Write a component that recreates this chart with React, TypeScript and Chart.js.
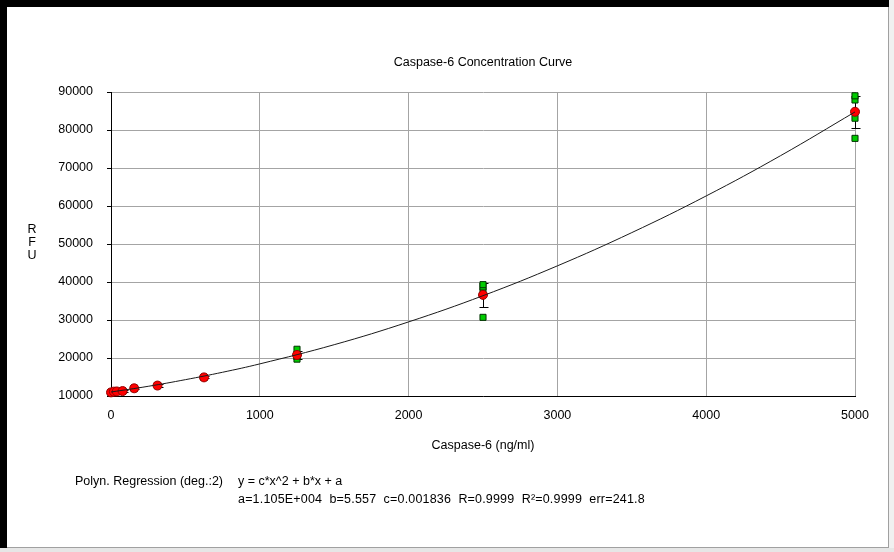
import React, { useEffect, useRef } from "react";
import { Chart, registerables } from "chart.js";

Chart.register(...registerables);

// ---- Data ----
const concentrations = [0, 19.5, 39, 78, 156, 312.5, 625, 1250, 2500, 5000];
const meanRFU = [10950, 11150, 11200, 11300, 12030, 12750, 14900, 20800, 36600, 84800];
const errRFU = [200, 200, 200, 250, 250, 300, 250, 1100, 3100, 4200];
const replicateA = [11000, 11200, 11250, 11350, 12100, 12800, 14950, 22300, 39300, 89000];
const replicateB = [10900, 11100, 11150, 11250, 11950, 12700, 14850, 20500, 38700, 87900];
const replicateC = [10950, 11150, 11200, 11300, 12050, 12750, 14900, 19700, 37700, 83100];
const replicateD = [10950, 11150, 11200, 11300, 12020, 12750, 14900, 20700, 30700, 77800];

const fitX = [0, 250, 500, 750, 1000, 1500, 2000, 2500, 3000, 3500, 4000, 4500, 5000];
const fitY = [11050, 12550, 14300, 16250, 18450, 23500, 29500, 36400, 44250, 53000, 62650, 73250, 84750];

const xTickValues = [0, 1000, 2000, 3000, 4000, 5000];
const yTickValues = [10000, 20000, 30000, 40000, 50000, 60000, 70000, 80000, 90000];

const chartTitle = "Caspase-6 Concentration Curve";
const xAxisTitle = "Caspase-6 (ng/ml)";
const yAxisLetters = ["R", "F", "U"];
const regressionLabel = "Polyn. Regression (deg.:2)";
const regressionFormula = "y = c*x^2 + b*x + a";
const regressionParams = "a=1.105E+004  b=5.557  c=0.001836  R=0.9999  R\u00B2=0.9999  err=241.8";

const FONT = '"Liberation Sans", Arial, sans-serif';

const errorBarPlugin = {
  id: "errorBars",
  beforeDatasetsDraw(chart: any) {
    const { ctx, scales } = chart;
    const x = scales.x;
    const y = scales.y;
    ctx.save();
    ctx.strokeStyle = "#000";
    ctx.lineWidth = 1;
    concentrations.forEach((c, i) => {
      const px = Math.round(x.getPixelForValue(c)) + 0.5;
      const top = Math.round(y.getPixelForValue(meanRFU[i] + errRFU[i])) + 0.5;
      const bot = Math.round(y.getPixelForValue(meanRFU[i] - errRFU[i])) + 0.5;
      ctx.beginPath();
      ctx.moveTo(px, top);
      ctx.lineTo(px, bot);
      ctx.moveTo(px - 4, top);
      ctx.lineTo(px + 5, top);
      ctx.moveTo(px - 4, bot);
      ctx.lineTo(px + 5, bot);
      ctx.stroke();
    });
    ctx.restore();
  },
};

export default function App() {
  const canvasRef = useRef<HTMLCanvasElement | null>(null);

  useEffect(() => {
    if (!canvasRef.current) return;
    const reps = [replicateA, replicateB, replicateC, replicateD];
    const chart = new Chart(canvasRef.current, {
      type: "scatter",
      data: {
        datasets: [
          {
            label: "fit",
            data: fitX.map((v, i) => ({ x: v, y: fitY[i] })),
            showLine: true,
            borderColor: "#1a1a1a",
            borderWidth: 1,
            pointRadius: 0,
            tension: 0.4,
            order: 0,
            clip: false,
          } as any,
          {
            label: "mean",
            data: concentrations.map((v, i) => ({ x: v, y: meanRFU[i] })),
            pointStyle: "circle",
            pointRadius: 4.5,
            backgroundColor: "#ff0000",
            borderColor: "#9a0000",
            borderWidth: 1,
            order: 1,
            clip: false,
          } as any,
          ...reps.map((r, k) => ({
            label: "rep" + k,
            data: concentrations.map((v, i) => ({ x: v, y: r[i] })),
            pointStyle: "rect",
            pointRadius: 4.3,
            backgroundColor: "#00cc00",
            borderColor: "#003300",
            borderWidth: 1,
            order: 2,
            clip: false,
          } as any)),
        ],
      },
      options: {
        animation: false,
        responsive: false,
        events: [],
        layout: { padding: { left: 0, right: 39, top: 0, bottom: 0 } },
        plugins: {
          legend: { display: false },
          tooltip: { enabled: false },
          title: {
            display: true,
            fullSize: false,
            text: chartTitle,
            color: "#000",
            font: { family: FONT, size: 12.5, weight: "normal", lineHeight: 1.2 },
            padding: { top: 55, bottom: 22 },
          },
        },
        scales: {
          x: {
            type: "linear",
            min: 0,
            max: 5000,
            afterBuildTicks: (s: any) => {
              s.ticks = xTickValues.map((v) => ({ value: v }));
            },
            afterFit: (s: any) => {
              s.height = 156;
            },
            ticks: {
              color: "#000",
              font: { family: FONT, size: 12.5, lineHeight: 1.2 },
              padding: 12,
              maxRotation: 0,
              callback: (v: any) => String(v),
            },
            grid: { color: "#a4a4a4", lineWidth: 1, drawTicks: false },
            border: { display: true, color: "#000", width: 1 },
            title: {
              display: true,
              text: xAxisTitle,
              color: "#000",
              font: { family: FONT, size: 12.5, lineHeight: 1.2 },
              padding: { top: 0, bottom: 99 },
            },
          },
          y: {
            type: "linear",
            min: 10000,
            max: 90000,
            afterBuildTicks: (s: any) => {
              s.ticks = yTickValues.map((v) => ({ value: v }));
            },
            afterFit: (s: any) => {
              s.width = 111;
            },
            ticks: {
              color: "#000",
              font: { family: FONT, size: 12.5, lineHeight: 1.2 },
              padding: 14,
              callback: (v: any) => String(v),
            },
            grid: { color: "#a4a4a4", lineWidth: 1, drawTicks: true, tickLength: 4, tickColor: "#000" },
            border: { display: true, color: "#000", width: 1 },
          },
        },
      } as any,
      plugins: [errorBarPlugin],
    });
    return () => chart.destroy();
  }, []);

  const textStyle: React.CSSProperties = {
    position: "absolute",
    fontFamily: FONT,
    fontSize: "12.5px",
    lineHeight: "15px",
    color: "#000",
    whiteSpace: "pre",
    margin: 0,
  };

  return (
    <div
      style={{
        position: "fixed",
        left: 0,
        top: 0,
        width: 894,
        height: 552,
        background: "#fff",
        overflow: "hidden",
      }}
    >
      <canvas
        ref={canvasRef}
        width={894}
        height={552}
        style={{ position: "absolute", left: 0, top: 0, width: 894, height: 552 }}
      />
      {/* panel frame */}
      <div style={{ position: "absolute", left: 0, top: 0, width: 890, height: 7, background: "#000" }} />
      <div style={{ position: "absolute", left: 0, top: 0, width: 7, height: 548, background: "#000" }} />
      <div style={{ position: "absolute", left: 888, top: 7, width: 1, height: 541, background: "#a0a0a0" }} />
      <div style={{ position: "absolute", left: 889, top: 0, width: 5, height: 552, background: "#f0f0f0" }} />
      <div style={{ position: "absolute", left: 7, top: 547, width: 882, height: 1, background: "#a0a0a0" }} />
      <div style={{ position: "absolute", left: 0, top: 548, width: 894, height: 4, background: "#e6e6e6" }} />
      {/* y-axis title, stacked letters */}
      <div style={{ ...textStyle, left: 26, top: 223, width: 12, textAlign: "center", lineHeight: "13px" }}>
        {yAxisLetters.map((l) => (
          <div key={l}>{l}</div>
        ))}
      </div>
      {/* regression text */}
      <div style={{ ...textStyle, left: 75, top: 474 }}>{regressionLabel}</div>
      <div style={{ ...textStyle, left: 238, top: 474 }}>{regressionFormula}</div>
      <div style={{ ...textStyle, left: 238, top: 492, letterSpacing: "0.18px" }}>{regressionParams}</div>
    </div>
  );
}
